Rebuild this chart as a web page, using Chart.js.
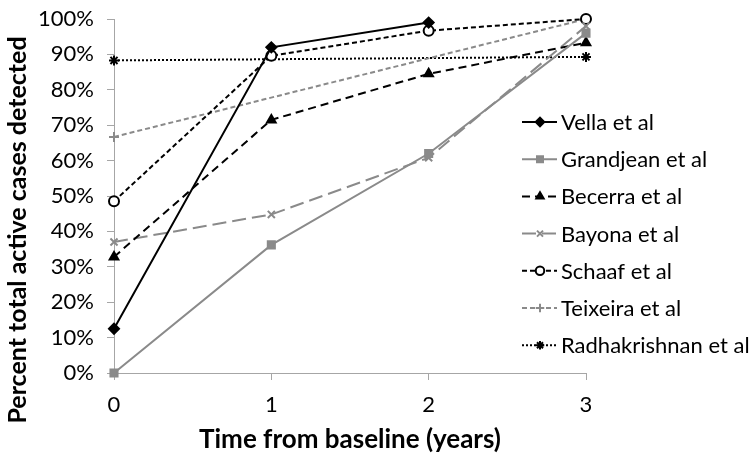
<!DOCTYPE html>
<html>
<head>
<meta charset="utf-8">
<script src="https://cdn.jsdelivr.net/npm/chart.js@4"></script>
<style>
  body { margin: 0; background: #fff; }
  #wrap { width: 756px; height: 460px; }
</style>
</head>
<body>
<div id="wrap"><canvas id="grafico"></canvas></div>
<script>
const anos = [0, 1, 2, 3];
const vella = [12.5, 92, 99, null];
const grandjean = [0, 36.2, 62, 96];
const becerra = [32.8, 71.5, 84.5, 93.3];
const bayona = [37, 44.8, 60.8, 98];
const schaaf = [48.5, 89.6, 96.7, 100];
const teixeira = [66.7, null, null, 100];
const radhakrishnan = [88.3, null, null, 89.3];

const cinza = '#8a8a8a';
const fonte = 'Lato, "Open Sans", sans-serif';
const tituloY = 'Percent total active cases detected';

function serie(nome, valores, cor, dash, ponto, raio, preenchimento) {
    return {
        label: nome,
        data: anos.map((x, i) => ({ x: x, y: valores[i] })),
        borderColor: cor,
        borderWidth: 2,
        borderDash: dash,
        pointStyle: ponto,
        pointRadius: raio,
        pointBackgroundColor: preenchimento || cor,
        pointBorderColor: cor,
        pointBorderWidth: 2,
        spanGaps: true,
        clip: false,
        tension: 0
    };
}

// legenda desenhada à mão: linha tracejada + marcador + texto
const legendaPropria = {
    id: 'legendaPropria',
    afterDraw(chart) {
        const ctx = chart.ctx;
        chart.data.datasets.forEach((ds, i) => {
            const y = 122 + i * 37.2;
            ctx.save();
            ctx.strokeStyle = ds.borderColor;
            ctx.lineWidth = 2;
            ctx.setLineDash(ds.borderDash || []);
            ctx.beginPath();
            ctx.moveTo(522, y);
            ctx.lineTo(557, y);
            ctx.stroke();
            ctx.setLineDash([]);
            ctx.fillStyle = ds.pointBackgroundColor;
            ctx.strokeStyle = ds.pointBorderColor;
            ctx.lineWidth = 2;
            Chart.helpers.drawPoint(ctx, {
                pointStyle: ds.pointStyle,
                radius: ds.pointRadius * 0.85,
                borderWidth: 2,
                rotation: 0
            }, 540, y);
            ctx.fillStyle = '#000';
            ctx.font = '22px ' + fonte;
            ctx.textBaseline = 'middle';
            ctx.fillText(ds.label, 561, y + 1);
            ctx.restore();
        });

        // título do eixo y, centrado na altura toda como no original
        ctx.save();
        ctx.translate(18, 230);
        ctx.rotate(-Math.PI / 2);
        ctx.fillStyle = '#000';
        ctx.font = 'bold 25px ' + fonte;
        ctx.textAlign = 'center';
        ctx.textBaseline = 'middle';
        ctx.fillText(tituloY, 0, 0);
        ctx.restore();
    }
};

new Chart(document.getElementById('grafico'), {
    type: 'line',
    data: {
        datasets: [
            serie('Vella et al', vella, '#000', [], 'rectRot', 5),
            serie('Grandjean et al', grandjean, cinza, [], 'rect', 5),
            serie('Becerra et al', becerra, '#000', [8, 5], 'triangle', 5),
            serie('Bayona et al', bayona, cinza, [14, 6], 'crossRot', 5),
            serie('Schaaf et al', schaaf, '#000', [5, 3], 'circle', 5, '#fff'),
            serie('Teixeira et al', teixeira, cinza, [5, 3], 'cross', 5),
            serie('Radhakrishnan et al', radhakrishnan, '#000', [2, 2], 'star', 5)
        ]
    },
    options: {
        responsive: true,
        maintainAspectRatio: false,
        animation: false,
        layout: { padding: { top: 0, right: 170, left: 0, bottom: 0 } },
        plugins: {
            legend: { display: false },
            tooltip: { enabled: false }
        },
        scales: {
            x: {
                type: 'linear',
                min: 0,
                max: 3,
                afterFit: s => { s.height = 87; },
                ticks: {
                    stepSize: 1,
                    color: '#000',
                    font: { family: fonte, size: 22 },
                    padding: 12
                },
                grid: {
                    drawOnChartArea: false,
                    tickLength: 7,
                    color: '#a6a6a6'
                },
                border: { color: '#a6a6a6', width: 1 },
                title: {
                    display: true,
                    text: 'Time from baseline (years)',
                    color: '#000',
                    font: { family: fonte, size: 26, weight: 'bold' },
                    padding: { top: 0, bottom: 5 }
                }
            },
            y: {
                min: 0,
                max: 100,
                afterFit: s => { s.width = 114; s.paddingTop = 19; s.paddingBottom = 0; },
                ticks: {
                    stepSize: 10,
                    color: '#000',
                    font: { family: fonte, size: 22 },
                    padding: 13,
                    callback: v => v + '%'
                },
                grid: {
                    drawOnChartArea: false,
                    tickLength: 7,
                    color: '#a6a6a6'
                },
                border: { color: '#a6a6a6', width: 1 }
            }
        }
    },
    plugins: [legendaPropria]
});
</script>
</body>
</html>
